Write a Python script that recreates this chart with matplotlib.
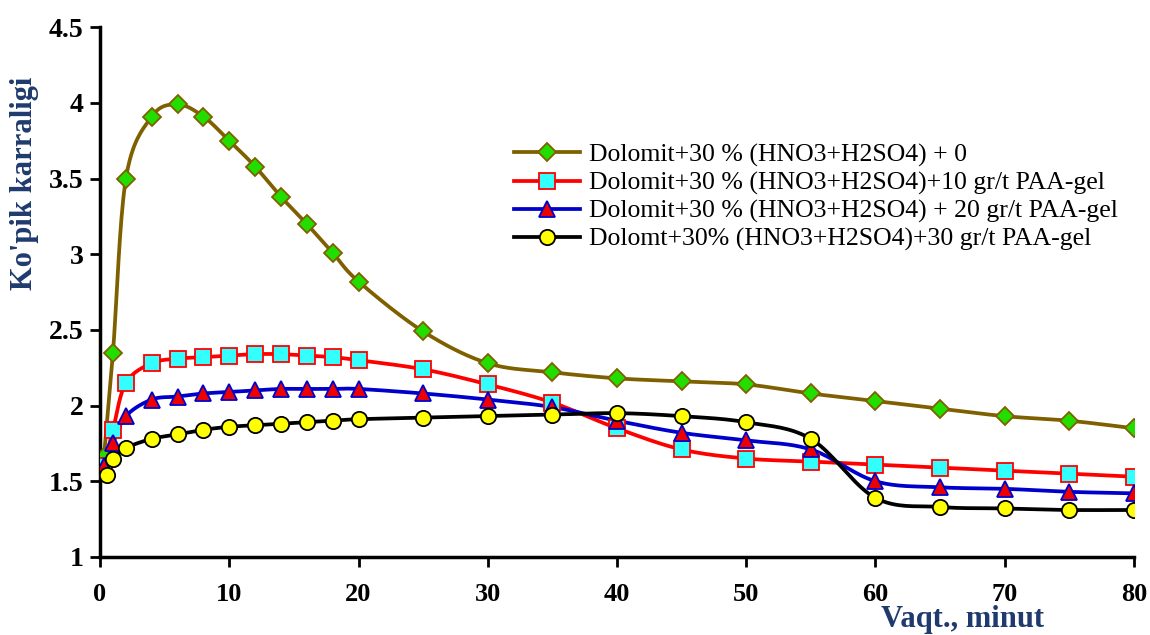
import numpy as np
import matplotlib.pyplot as plt

plt.rcParams['font.family'] = ['Liberation Serif', 'DejaVu Serif']

# time, minutes
t_base = [0.3, 1, 2, 4, 6, 8, 10, 12, 14, 16, 18, 20, 25, 30, 35, 40, 45, 50, 55, 60, 65, 70, 75, 80]
t_black = [0.5, 1, 2, 4, 6, 8, 10, 12, 14, 16, 18, 20, 25, 30, 35, 40, 45, 50, 55, 60, 65, 70, 75, 80]

foam_0 = [1.66, 2.35, 3.50, 3.91, 3.99, 3.91, 3.75, 3.58, 3.38, 3.20, 3.01, 2.82,
          2.49, 2.28, 2.22, 2.18, 2.16, 2.14, 2.08, 2.03, 1.98, 1.93, 1.90, 1.85]
foam_10 = [1.60, 1.84, 2.15, 2.28, 2.31, 2.32, 2.33, 2.34, 2.34, 2.33, 2.32, 2.30,
           2.24, 2.14, 2.02, 1.85, 1.71, 1.65, 1.63, 1.61, 1.59, 1.57, 1.55, 1.53]
foam_20 = [1.60, 1.75, 1.93, 2.04, 2.06, 2.08, 2.09, 2.10, 2.11, 2.11, 2.11, 2.11,
           2.08, 2.04, 1.99, 1.90, 1.82, 1.77, 1.71, 1.50, 1.46, 1.45, 1.43, 1.42]
foam_30 = [1.54, 1.65, 1.72, 1.78, 1.81, 1.84, 1.86, 1.87, 1.88, 1.89, 1.90, 1.91,
           1.92, 1.93, 1.94, 1.95, 1.93, 1.89, 1.78, 1.39, 1.33, 1.32, 1.31, 1.31]

labels = ["Dolomit+30 % (HNO3+H2SO4) + 0",
          "Dolomit+30 % (HNO3+H2SO4)+10 gr/t PAA-gel",
          "Dolomit+30 % (HNO3+H2SO4) + 20 gr/t PAA-gel",
          "Dolomt+30% (HNO3+H2SO4)+30 gr/t PAA-gel"]


def smooth(x, y, sx=1034 / 80, sy=530 / 3.5, n=20):
    """Excel-like smoothed line (bezier through the points)"""
    p = np.column_stack([np.asarray(x) * sx, np.asarray(y) * sy])
    p = np.vstack([p[0], p, p[-1]])
    out = []
    s = np.linspace(0, 1, n)[:, None]
    for i in range(1, len(p) - 2):
        p0, p1, p2, p3 = p[i - 1], p[i], p[i + 1], p[i + 2]
        c1 = p1 + (p2 - p0) / 6
        c2 = p2 - (p3 - p1) / 6
        b = ((1 - s) ** 3) * p1 + 3 * ((1 - s) ** 2) * s * c1 + 3 * (1 - s) * s ** 2 * c2 + s ** 3 * p2
        out.append(b)
    out = np.vstack(out)
    return out[:, 0] / sx, out[:, 1] / sy


fig = plt.figure(figsize=(11.5, 6.35), dpi=100)
ax = fig.add_axes([0.087, 0.123, 0.899, 0.834])

series = [
    (t_base, foam_0, '#7F6000', 'D', '#22DD00', '#7F6000', 9),
    (t_base, foam_10, '#FF0000', 's', '#33FFFF', '#FF0000', 11),
    (t_base, foam_20, '#0000CC', '^', '#EE0000', '#0000CC', 11),
    (t_black, foam_30, '#000000', 'o', '#FFFF00', '#000000', 11),
]
handles = []
for (x, y, lc, mk, mf, me, ms), lab in zip(series, labels):
    xs, ys = smooth(x, y)
    ax.plot(xs, ys, color=lc, lw=2.7, zorder=2)
    ax.plot(x, y, ls='none', marker=mk, ms=ms, mfc=mf, mec=me, mew=1.3, zorder=3)
    h, = ax.plot([], [], color=lc, lw=2.7, marker=mk, ms=ms, mfc=mf, mec=me, mew=1.3)
    handles.append(h)

ax.set_xlim(0, 80)
ax.set_ylim(1, 4.5)
ax.set_xticks(range(0, 81, 10))
ax.set_yticks([1, 1.5, 2, 2.5, 3, 3.5, 4, 4.5])
ax.set_yticklabels(['1', '1.5', '2', '2.5', '3', '3.5', '4', '4.5'])
for s in ['top', 'right']:
    ax.spines[s].set_visible(False)
for s in ['left', 'bottom']:
    ax.spines[s].set_linewidth(2.5)
ax.tick_params(width=2, length=7)
ax.tick_params(axis='x', labelsize=19, pad=12)
ax.tick_params(axis='y', labelsize=20, pad=5)
for lbl in ax.get_xticklabels() + ax.get_yticklabels():
    lbl.set_fontweight('bold')

fig.text(0.021, 0.712, "Ko'pik karraligi", fontsize=22, fontweight='bold', color='#1F3A6E',
         rotation=90, ha='center', va='center')
fig.text(0.837, 0.012, "Vaqt., minut", fontsize=22, fontweight='bold', color='#1F3A6E',
         ha='center', va='baseline')

ax.legend(handles, labels, loc='upper left', bbox_to_anchor=(0.39, 0.80), frameon=False,
          fontsize=18.5, handlelength=2.6, labelspacing=0.18, handletextpad=0.35, borderaxespad=0)

fig.savefig("out.png", dpi=100)
